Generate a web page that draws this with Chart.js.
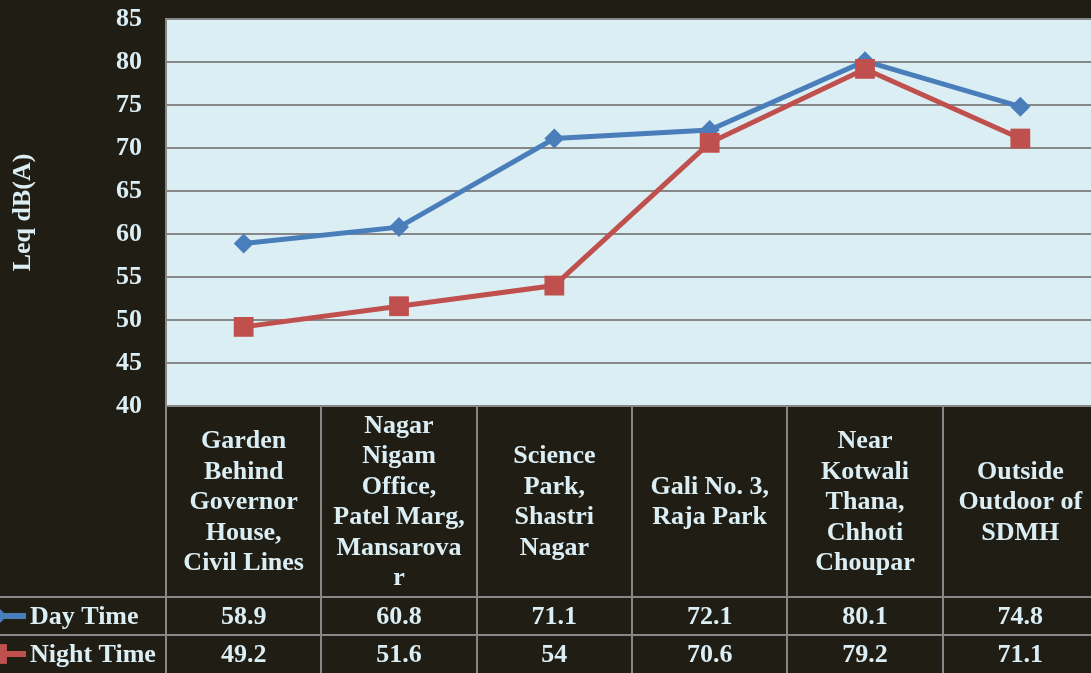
<!DOCTYPE html>
<html>
<head>
<meta charset="utf-8">
<script src="https://cdn.jsdelivr.net/npm/chart.js@4"></script>
<style>
  html, body { margin: 0; padding: 0; overflow: hidden; background: #201d14; }
  #wrap { width: 1098px; height: 673px; }
</style>
</head>
<body>
<div id="wrap"><canvas id="noiseChart" width="1098" height="673"></canvas></div>
<script>
"use strict";

// Mätplatser (radbrutna som i tabellen)
const locations = [
    ["Garden", "Behind", "Governor", "House,", "Civil Lines"],
    ["Nagar", "Nigam", "Office,", "Patel Marg,", "Mansarova", "r"],
    ["Science", "Park,", "Shastri", "Nagar"],
    ["Gali No. 3,", "Raja Park"],
    ["Near", "Kotwali", "Thana,", "Chhoti", "Choupar"],
    ["Outside", "Outdoor of", "SDMH"]
];

const dayTime = [58.9, 60.8, 71.1, 72.1, 80.1, 74.8];
const nightTime = [49.2, 51.6, 54, 70.6, 79.2, 71.1];
const dayLabels = ["58.9", "60.8", "71.1", "72.1", "80.1", "74.8"];
const nightLabels = ["49.2", "51.6", "54", "70.6", "79.2", "71.1"];

const yMin = 40;
const yMax = 85;
const yStep = 5;

const bgDark = "#201d14";
const plotBg = "#dbeef4";
const textCol = "#dbeef4";
const gridCol = "#878787";
const blue = "#4a7ebb";
const red = "#c0504d";
const font = "'Liberation Serif', 'Times New Roman', serif";

// Bakgrund + datatabell under diagrammet
const tablePlugin = {
    id: "tablePlugin",
    beforeDraw(chart) {
        const { ctx, chartArea: a } = chart;
        ctx.save();
        ctx.fillStyle = bgDark;
        ctx.fillRect(0, 0, chart.width, chart.height);
        ctx.fillStyle = plotBg;
        ctx.fillRect(a.left, a.top, a.right - a.left, a.bottom - a.top);
        ctx.restore();
    },
    afterDraw(chart) {
        const { ctx, chartArea: a } = chart;
        const x = chart.scales.x;
        const rowH = 38;
        const bottom = chart.height;
        const nightTop = bottom - rowH;
        const dayTop = nightTop - rowH;
        const colW = (a.right - a.left) / locations.length;

        ctx.save();
        ctx.strokeStyle = gridCol;
        ctx.lineWidth = 2;

        // Vertikala linjer
        for (let i = 0; i <= locations.length; i++) {
            const lx = Math.round(a.left + i * colW);
            ctx.beginPath();
            ctx.moveTo(lx, a.bottom);
            ctx.lineTo(lx, bottom);
            ctx.stroke();
        }
        // Horisontella linjer
        [a.bottom, dayTop, nightTop].forEach((ly, i) => {
            ctx.beginPath();
            ctx.moveTo(i === 0 ? a.left : 0, ly);
            ctx.lineTo(chart.width, ly);
            ctx.stroke();
        });

        ctx.fillStyle = textCol;
        ctx.font = "bold 26px " + font;
        ctx.textAlign = "center";
        ctx.textBaseline = "middle";

        const headMid = (a.bottom + dayTop) / 2;
        const lh = 30.5;
        locations.forEach((lines, i) => {
            const cx = x.getPixelForValue(i);
            const start = headMid - (lines.length - 1) * lh / 2;
            lines.forEach((t, j) => ctx.fillText(t, cx, start + j * lh + 1));
            ctx.fillText(dayLabels[i], cx, dayTop + rowH / 2 + 1);
            ctx.fillText(nightLabels[i], cx, nightTop + rowH / 2 + 1);
        });

        // Förklaring i tabellen
        const keys = [
            { label: "Day Time", color: blue, shape: "rectRot", r: 10, y: dayTop + rowH / 2 },
            { label: "Night Time", color: red, shape: "rect", r: 14, y: nightTop + rowH / 2 }
        ];
        keys.forEach(k => {
            ctx.strokeStyle = k.color;
            ctx.lineWidth = 6;
            ctx.beginPath();
            ctx.moveTo(-5, k.y);
            ctx.lineTo(26, k.y);
            ctx.stroke();
            ctx.fillStyle = k.color;
            Chart.helpers.drawPoint(ctx, { pointStyle: k.shape, radius: k.r, borderWidth: 0 }, -3, k.y);
            ctx.fillStyle = textCol;
            ctx.textAlign = "left";
            ctx.fillText(k.label, 30, k.y + 1);
        });
        ctx.restore();
    }
};

const ctx = document.getElementById("noiseChart");

new Chart(ctx, {
    type: "line",
    data: {
        labels: locations,
        datasets: [
            {
                label: "Day Time",
                data: dayTime,
                borderColor: blue,
                backgroundColor: blue,
                borderWidth: 5,
                pointStyle: "rectRot",
                pointRadius: 10,
                pointBorderWidth: 0,
                tension: 0,
                order: 1
            },
            {
                label: "Night Time",
                data: nightTime,
                borderColor: red,
                backgroundColor: red,
                borderWidth: 5,
                pointStyle: "rect",
                pointRadius: 14,
                pointBorderWidth: 0,
                tension: 0,
                order: 0
            }
        ]
    },
    options: {
        responsive: false,
        animation: false,
        layout: { autoPadding: false, padding: { top: 19, left: 0, right: 0, bottom: 0 } },
        plugins: {
            legend: { display: false },
            tooltip: { enabled: false }
        },
        scales: {
            x: {
                offset: true,
                ticks: { display: false },
                grid: { display: false },
                border: { display: false },
                afterFit: (s) => { s.height = 267; }
            },
            y: {
                min: yMin,
                max: yMax,
                afterFit: (s) => {
                    s.width = 166;
                    s.paddingTop = 0;
                    s.paddingBottom = 0;
                },
                ticks: {
                    stepSize: yStep,
                    color: textCol,
                    padding: 24,
                    font: { family: font, size: 26, weight: "bold" }
                },
                grid: { color: gridCol, lineWidth: 2, drawTicks: false },
                border: { display: true, color: gridCol, width: 2 },
                title: {
                    display: true,
                    text: "Leq dB(A)",
                    color: textCol,
                    padding: { top: 8, bottom: 0 },
                    font: { family: font, size: 26, weight: "bold" }
                }
            }
        }
    },
    plugins: [tablePlugin]
});
</script>
</body>
</html>
